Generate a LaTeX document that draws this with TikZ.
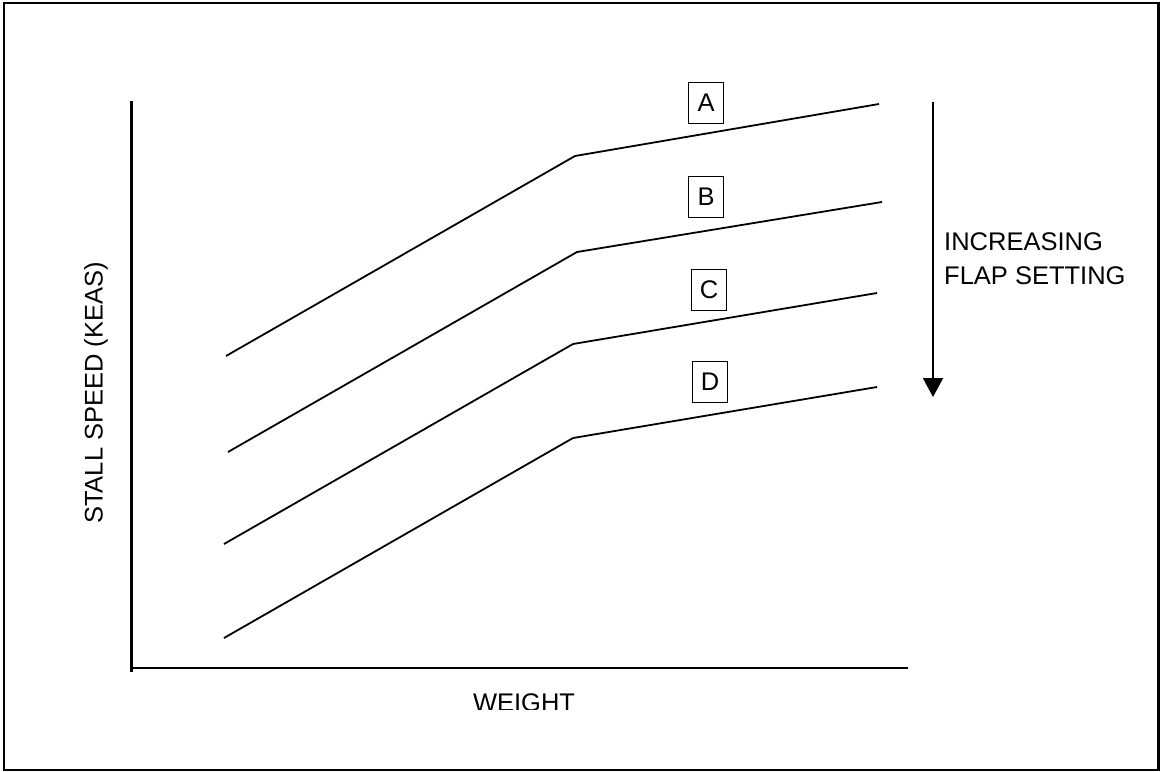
\documentclass[tikz,border=0pt]{standalone}
\usepackage{fontspec}
\setmainfont{Liberation Sans}
\usetikzlibrary{arrows.meta,positioning}
\begin{document}
\begin{tikzpicture}[x=1pt, y=-1pt,
    lbl/.style = {draw, line width=1.4pt, minimum width=35pt,
                minimum height=41pt, inner sep=0pt, font=\fontsize{25.5}{30}\selectfont},
    txt/.style = {inner sep=0pt, font=\fontsize{25.5}{30}\selectfont},
    curve/.style = {black, line width=1.8pt}  % the four flap curves
                    ]
        \useasboundingbox (0,0) rectangle (1161,771);
        \draw [black,line width=2.5pt] (4,3) rectangle (1158.5,770);
        % axes
        \coordinate (ytop) at (131.5,101);
        \coordinate (ybot) at (131.5,672);
        \coordinate (org) at (131.5,668);
        \coordinate (xend) at (908,668);
        \draw [black,line width=2.3pt] (ytop) -- (ybot);
        \draw [black,line width=2.3pt] (org) -- (xend);
        \node[txt, rotate=90, anchor=base] (ylab) at (102.5,393) {STALL SPEED (KEAS)};
        \begin{scope}
            \clip (400,680) rectangle (650,709.5);
            \node[txt, anchor=base] (xlab) at (524,711.5) {WEIGHT};
        \end{scope}
        % curves
        \foreach \c/\xa/\ya/\xb/\yb/\xc/\yc in {A/226/356/575/156/879/104,
                B/228/452/577/252/882/202, C/224/544/573/344/877/293,
                D/224/638/573/438/877/387}
        {
            \coordinate (\c0) at (\xa,\ya);
            \coordinate (\c1) at (\xb,\yb);
            \coordinate (\c2) at (\xc,\yc);
            \draw [curve] (\c0) -- (\c1) -- (\c2);
        }
        \foreach \x/\y/\c in {706/103/A, 706/197/B, 709/290/C, 710/382/D}
            \node[lbl] at (\x,\y) (box\c) {\c};
        % flap arrow
        \coordinate (arrtop) at (933,102);
        \coordinate (arrtip) at (933,397);
        \draw [black,line width=1.9pt,-{Triangle[length=19pt,width=20pt]}] (arrtop) -- (arrtip);
        \node[txt, anchor=base west] (inc) at (944,250) {INCREASING};
        \node[txt, anchor=base west] (flap) at (944,284) {FLAP SETTING};
    \end{tikzpicture}
\end{document}
